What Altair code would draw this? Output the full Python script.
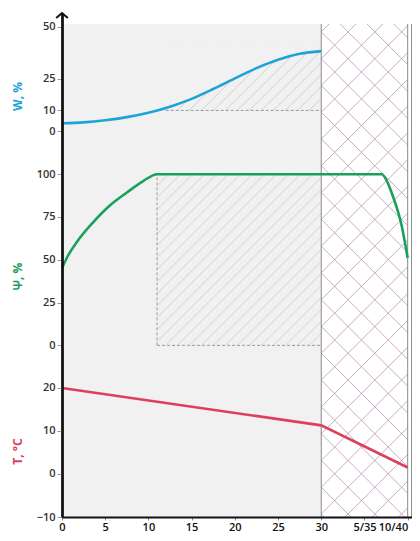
import altair as alt
import pandas as pd

# ---------------- data ----------------
x_w = [0, 2.5, 5, 7.5, 10, 12.5, 15, 17.5, 20, 22.5, 25, 27.5, 30]
w_vals = [3.9, 4.3, 5.3, 6.8, 8.9, 11.8, 15.5, 20.2, 25.3, 30.2, 34.2, 37.0, 38.3]

x_psi = [0, 0.7, 1.7, 3.6, 5.5, 7.5, 9.4, 11, 37, 37.6, 38.3, 39.3, 40]
psi_vals = [45, 52.5, 60.3, 71.9, 81.6, 89.3, 96, 100, 100, 96, 87, 70, 51]

x_t = [0, 30, 40]
t_vals = [20, 11.3, 1.5]

x_ticks = [0, 5, 10, 15, 20, 25, 30, 35, 40]
x_labels = ["0", "5", "10", "15", "20", "25", "30", "5/35", "10/40"]
w_ticks = [0, 10, 25, 50]
psi_ticks = [0, 25, 50, 75, 100]
t_ticks = [-10, 0, 10, 20]

# zone boundaries (x units) and levels
box_x = 11          # left edge of the dashed boxes
w_dash_x = 12       # start of the W = 10 dashed line
w_level = 10
inner_x = 30        # wall boundary
outer_x = 40
edge_x = 40.45

# ---------------- layout ----------------
W, H = 350, 504
REF_H = 508                  # decoration canvas units (reference pixel rows)
X_DOM = [0, 40.5]
W_DOM = [-184.05, 56.49]
PSI_DOM = [-100.3, 194.2]
T_DOM = [-10, 107.17]
CANVAS_DOM = [0, REF_H]
TEX_TOP = 11                 # top of the textured zone (canvas units)

px_x = W / (X_DOM[1] - X_DOM[0])
px_w = H / (W_DOM[1] - W_DOM[0])
px_psi = H / (PSI_DOM[1] - PSI_DOM[0])
px_can = H / REF_H

BG = "#f1f1f1"
C_W, C_PSI, C_T = "#1ea3d6", "#19a05c", "#dc3f5f"
FONT = "Open Sans"


def hatch(x0, x1, y0, y1, k, dy, ax, ay, s):
    rows = []
    for n in range(-400, 401):
        b = ay + n * dy
        xa = ax + (y0 - b) / (s * k)
        xb = ax + (y1 - b) / (s * k)
        lo, hi = max(min(xa, xb), x0), min(max(xa, xb), x1)
        if hi - lo > 1e-9:
            rows.append(dict(x=lo, y=b + s * k * (lo - ax), x2=hi, y2=b + s * k * (hi - ax)))
    return pd.DataFrame(rows)


label_expr = "datum.label"
for v, l in reversed(list(zip(x_ticks, x_labels))):
    label_expr = f"datum.value == {v} ? '{l}' : " + label_expr

XAXIS = alt.Axis(values=x_ticks, labelExpr=label_expr, title=None, grid=False,
                 domainColor="#111", domainWidth=2, tickColor="#888", tickSize=3,
                 labelFont=FONT, labelFontSize=11, labelFontWeight=600, labelColor="#111",
                 labelPadding=1, labelFlush=False, labelOverlap=False, zindex=1,
                 labelAlign={"condition": {"test": f"datum.value == {x_ticks[-1]}", "value": "right"},
                             "value": "center"})
XS = alt.Scale(domain=X_DOM, nice=False, zero=False)


def X(f):
    return alt.X(f, type="quantitative", scale=XS, axis=XAXIS)


def sc(dom, rev=False):
    if rev:
        return alt.Scale(domain=dom, nice=False, zero=False, reverse=True)
    return alt.Scale(domain=dom, nice=False, zero=False)


CAN = sc(CANVAS_DOM, rev=True)


def yaxis(values, title, color, ty):
    return alt.Axis(values=values, title=title, orient="left", grid=False,
                    titleColor=color, titleFont=FONT, titleFontSize=12, titleFontWeight="bold",
                    titleX=-45, titleY=ty, titleAlign="center", titleBaseline="middle", titleAngle=-90,
                    domainColor="#111", domainWidth=2, tickColor="#999", tickSize=5,
                    labelFont=FONT, labelFontSize=11, labelFontWeight=600, labelColor="#333",
                    labelPadding=2, labelFlush=False, labelOverlap=False, zindex=1)


df_w = pd.DataFrame({"x": x_w, "v": w_vals})
df_psi = pd.DataFrame({"x": x_psi, "v": psi_vals})
df_t = pd.DataFrame({"x": x_t, "v": t_vals})

# background zones
bg = alt.Chart(pd.DataFrame({"x": [0], "x2": [inner_x], "y": [TEX_TOP], "y2": [REF_H]})).mark_rect(
    fill=BG).encode(x=X("x"), x2="x2", y=alt.Y("y:Q", scale=CAN, axis=None), y2="y2")

k_can = px_x / px_can
cross = pd.concat([
    hatch(inner_x, outer_x, TEX_TOP, REF_H, k_can, 27, inner_x, 19, 1),
    hatch(inner_x, outer_x, TEX_TOP, REF_H, k_can, 27, inner_x, 19, -1)])
cross_l = alt.Chart(cross).mark_rule(stroke="#c09cbb", strokeWidth=0.85).encode(
    x=X("x"), x2="x2", y=alt.Y("y:Q", scale=CAN, axis=None), y2="y2")

w_hatch = hatch(box_x, inner_x, w_level, 40.5, px_x / px_w, 12 / px_w, inner_x, w_level, 1)
w_hatch_l = alt.Chart(w_hatch).mark_rule(stroke="#c8c8c8", strokeWidth=0.8).encode(
    x=X("x"), x2="x2", y=alt.Y("y:Q", scale=sc(W_DOM), axis=None), y2="y2")

w_mask = alt.Chart(df_w).mark_area(fill=BG, interpolate="monotone").encode(
    x=X("x"), y=alt.Y("v:Q", scale=sc(W_DOM), axis=None), y2=alt.datum(40.6))

psi_hatch = hatch(box_x, inner_x, 0, 100, px_x / px_psi, 12 / px_psi, inner_x, 0, 1)
psi_hatch_l = alt.Chart(psi_hatch).mark_rule(stroke="#c8c8c8", strokeWidth=0.8).encode(
    x=X("x"), x2="x2", y=alt.Y("y:Q", scale=sc(PSI_DOM), axis=None), y2="y2")

vlines = alt.Chart(pd.DataFrame({"x": [inner_x, outer_x, edge_x], "y": [TEX_TOP] * 3, "y2": [REF_H] * 3})
                   ).mark_rule(stroke="#8a8a8a", strokeWidth=1).encode(
    x=X("x"), y=alt.Y("y:Q", scale=CAN, axis=None), y2="y2")

w_dash = alt.Chart(pd.DataFrame({"x": [w_dash_x], "x2": [inner_x], "y": [w_level]})).mark_rule(
    stroke="#999", strokeWidth=1, strokeDash=[3, 2]).encode(
    x=X("x"), x2="x2", y=alt.Y("y:Q", scale=sc(W_DOM), axis=None))

psi_box = alt.Chart(pd.DataFrame({"x": [box_x, box_x], "x2": [box_x, inner_x],
                                  "y": [0, 0], "y2": [100, 0]})).mark_rule(
    stroke="#999", strokeWidth=1, strokeDash=[3, 2]).encode(
    x=X("x"), x2="x2", y=alt.Y("y:Q", scale=sc(PSI_DOM), axis=None), y2="y2")

w_line = alt.Chart(df_w).mark_line(color=C_W, strokeWidth=2.6, interpolate="monotone").encode(
    x=X("x"), y=alt.Y("v:Q", scale=sc(W_DOM), axis=yaxis(w_ticks, "W, %", C_W, 83)))

psi_line = alt.Chart(df_psi).mark_line(color=C_PSI, strokeWidth=2.6, interpolate="monotone").encode(
    x=X("x"), y=alt.Y("v:Q", scale=sc(PSI_DOM), axis=yaxis(psi_ticks, "Ψ, %", C_PSI, 263)))

t_line = alt.Chart(df_t).mark_line(color=C_T, strokeWidth=2.6).encode(
    x=X("x"), y=alt.Y("v:Q", scale=sc(T_DOM), axis=yaxis(t_ticks, "T, °C", C_T, 438)))

arrow = alt.Chart(pd.DataFrame({"x": [0], "y": [0]})).mark_point(
    shape="M-1,0.85L0,0L1,0.85", filled=False, stroke="#111", strokeWidth=2, size=135, opacity=1).encode(
    x=X("x"), y=alt.Y("y:Q", scale=CAN, axis=None))

chart = alt.layer(bg, cross_l, w_hatch_l, w_mask, psi_hatch_l, vlines, w_dash, psi_box,
                  w_line, psi_line, t_line, arrow).resolve_scale(y="independent").properties(
    width=W, height=H,
    autosize=alt.AutoSizeParams(type="none"),
    padding={"left": 54, "top": 5, "right": 0, "bottom": 16},
).configure_view(stroke=None)

chart.save("out.html", embed_options={"renderer": "svg", "actions": False})
